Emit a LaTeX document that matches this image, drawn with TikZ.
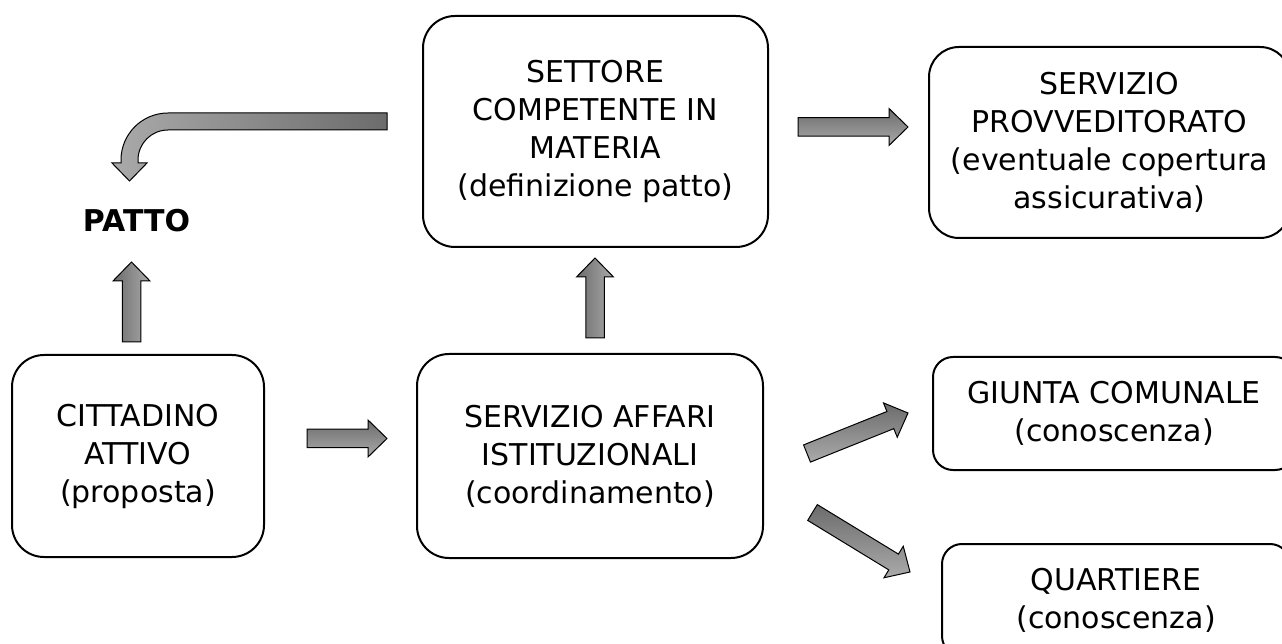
\documentclass[tikz,border=0pt]{standalone}
\usepackage{fontspec}
\setmainfont{DejaVu Sans}
\usetikzlibrary{calc}
\definecolor{adark}{RGB}{108,108,108}
\definecolor{alight}{RGB}{170,170,170}
\newcommand\boxfont{\fontsize{30}{38}\selectfont}
\newcommand\barrow[3][]{%
  \shade[barrowstyle,#1] let \p1=(#2), \p2=(#3),
    \n1={atan2(\y2-\y1,\x2-\x1)}, \n2={veclen(\x2-\x1,\y2-\y1)}
  in ($(\p1)+(\n1+90:9.25)$)
  -- ($(\p1)+(\n1:\n2-19)+(\n1+90:9.25)$)
  -- ($(\p1)+(\n1:\n2-19)+(\n1+90:18.5)$)
  -- (\p2)
  -- ($(\p1)+(\n1:\n2-19)+(\n1-90:18.5)$)
  -- ($(\p1)+(\n1:\n2-19)+(\n1-90:9.25)$)
  -- ($(\p1)+(\n1-90:9.25)$) -- cycle;}
\begin{document}
\begin{tikzpicture}[x=1pt,y=1pt,
  box/.style={draw, line width=2pt, rounded corners=32pt, align=center,
    inner sep=0pt, font=\boxfont},
  smallbox/.style={box, rounded corners=20pt},
  barrowstyle/.style={draw=black, line width=1pt, line join=miter},
  hshade/.style={top color=adark, bottom color=alight},
  vshade/.style={left color=adark, right color=alight},
]
\useasboundingbox (0,0) rectangle (1282,643);
% boxes
\node[box, minimum width=252, minimum height=202] (cit) at (138,187)
  {CITTADINO\\ATTIVO\\(proposta)};
\node[box, minimum width=346, minimum height=204] (ser) at (590,187)
  {SERVIZIO AFFARI\\ISTITUZIONALI\\(coordinamento)};
\node[box, minimum width=345, minimum height=231] (set) at (595.5,511.5)
  {SETTORE\\COMPETENTE IN\\MATERIA\\(definizione patto)};
\node[box, rounded corners=30pt, minimum width=361, minimum height=191] (prov) at (1109.5,500.5)
  {SERVIZIO\\PROVVEDITORATO\\(eventuale copertura\\assicurativa)};
\node[smallbox, minimum width=362, minimum height=113] (giunta) at (1114,229.5)
  {GIUNTA COMUNALE\\(conoscenza)};
\node[smallbox, minimum width=348, minimum height=112] (quart) at (1116,43)
  {QUARTIERE\\(conoscenza)};
\node[font=\boxfont\bfseries, inner sep=0pt] (patto) at (136.5,422) {PATTO};
% arrow end points
\coordinate (a1s) at (131.5,301); \coordinate (a1e) at (131.5,381);
\coordinate (a2s) at (307,204.5); \coordinate (a2e) at (387,204.5);
\coordinate (a3s) at (595,305);   \coordinate (a3e) at (595,385);
\coordinate (a4s) at (798,516);   \coordinate (a4e) at (908,516);
\coordinate (a5s) at (807,189.5); \coordinate (a5e) at (908,230);
\coordinate (a6s) at (812.5,130.5); \coordinate (a6e) at (910,71);
\barrow[vshade]{a1s}{a1e}
\barrow[hshade]{a2s}{a2e}
\barrow[vshade]{a3s}{a3e}
\barrow[hshade]{a4s}{a4e}
\barrow[hshade]{a5s}{a5e}
\barrow[hshade]{a6s}{a6e}
% curved arrow from SETTORE to PATTO
\coordinate (cs) at (387,530);
\shade[barrowstyle, left color=alight, right color=adark]
  (cs) -- (168,530) arc[start angle=90, end angle=180, radius=47pt]
  -- (121,480) -- (112,480) -- (129.5,462) -- (147,480) -- (138,480)
  -- (138,483) arc[start angle=180, end angle=90, radius=30pt]
  -- (387,513) -- cycle;
\end{tikzpicture}
\end{document}
